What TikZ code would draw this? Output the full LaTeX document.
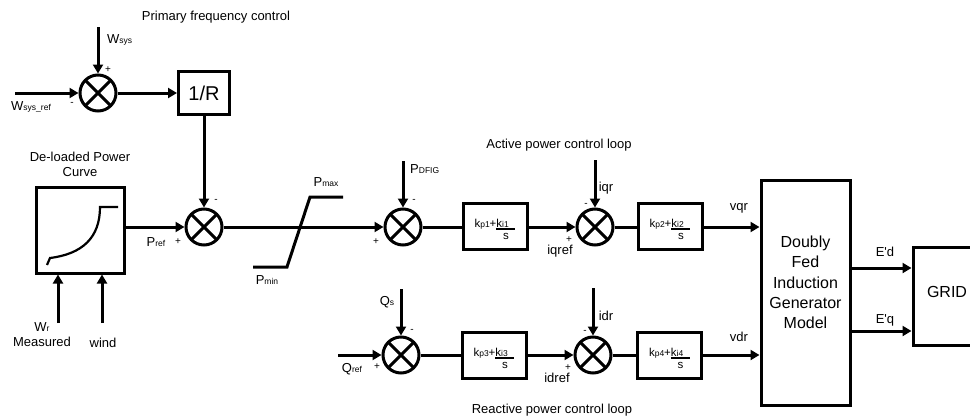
\documentclass[tikz,border=0pt]{standalone}
\usepackage{amsmath}
\usepackage{fontspec}
\setmainfont{Liberation Sans}
\usetikzlibrary{arrows.meta,positioning,calc}
\newcommand{\sbs}[1]{{\fontsize{8.5}{9}\selectfont #1}}
\newcommand{\pigain}[2]{k\sbs{#1}+\begin{tabular}[t]{@{}l@{}}k\sbs{#2}\\[-10pt]\rule{19pt}{2.4pt}\\[-4pt]\multicolumn{1}{@{}c@{}}{s}\end{tabular}}
\tikzset{
  blk/.style    ={rectangle, draw=black, line width=3pt, inner sep=0pt,
                  minimum width=64pt, minimum height=46pt},
  pibox/.style  ={blk, font=\fontsize{11.5}{13}\selectfont,
                  text height=12pt, text depth=10pt},
  sumnode/.style={circle, draw=black, line width=3pt, minimum size=36pt,
                  inner sep=0pt,
                  path picture={\draw[line width=3pt]
                    (path picture bounding box.north west) -- (path picture bounding box.south east)
                    (path picture bounding box.north east) -- (path picture bounding box.south west);}},
  sig/.style    ={-{Triangle[length=9pt,width=10pt]}, line width=3pt},
  wire/.style   ={line width=3pt},
  lbl/.style    ={font=\fontsize{13}{15}\selectfont, inner sep=0pt},
  sgn/.style    ={font=\fontsize{10}{10}\selectfont, inner sep=0pt}
}
\begin{document}
\begin{tikzpicture}[x=1pt, y=-1pt]
  \useasboundingbox (0,0) rectangle (970,418);
  \clip (0,0) rectangle (970,418);
  % primary frequency control
  \node[lbl] (pfc) at (216,17) {Primary frequency control};
  \node[sumnode] (s1) at (98,93) {};
  \node[blk, minimum width=51pt, minimum height=43pt,
        font=\fontsize{20}{22}\selectfont] (rinv) at (204,93) {1/R};
  \coordinate (wsys) at (98,27);
  \coordinate (wref) at (15,93);
  \draw[sig] (wsys) -- (s1.north);
  \draw[sig] (wref) -- (s1.west);
  \draw[sig] (s1.east) -- (rinv.west);
  \node[lbl, anchor=west] at (107,40) {W\sbs{sys}};
  \node[lbl, anchor=west] at (11,107) {W\sbs{sys\_ref}};
  \node[sgn] at (108,70) {+};
  \node[sgn] at (72,104) {-};
  % de-loaded curve
  \node[blk, minimum width=88pt, minimum height=86pt] (curve) at (80,230) {};
  \node[lbl, align=center] (dlpc) at (80,164) {De-loaded Power\\Curve};
  \draw[line width=2.2pt] (47,265) -- (50,258) .. controls (82,254) and (100,238) .. (100,207) -- (118,207);
  \coordinate (wr) at (58,323);
  \coordinate (wind) at (102,323);
  \draw[sig] (wr) -- (wr |- curve.south);
  \draw[sig] (wind) -- (wind |- curve.south);
  \node[lbl, align=center] at (42,335) {W\sbs{r}\\Measured};
  \node[lbl] at (103,343) {wind};
  \node[sumnode] (s2) at (204,227) {};
  \draw[sig] (curve.east |- s2) -- (s2.west);
  \draw[sig] (rinv.south) -- (s2.north);
  \node[lbl] at (156,242) {P\sbs{ref}};
  \node[sgn] at (178,242) {+};
  \node[sgn] at (216,201) {-};
  % limiter
  \draw[wire] (253,267) -- (287,267) -- (310,197) -- (343,197);
  \node[lbl] at (326,182) {P\sbs{max}};
  \node[lbl] at (267,280) {P\sbs{min}};
  % active power loop
  \node[lbl] (apl) at (559,145) {Active power control loop};
  \node[sumnode] (s3) at (403,227) {};
  \draw[sig] (s2.east) -- (s3.west);
  \coordinate (pdfig) at (403,161);
  \draw[sig] (pdfig) -- (s3.north);
  \node[lbl, anchor=west] at (410,169) {P\sbs{DFIG}};
  \node[sgn] at (376,242) {+};
  \node[sgn] at (414,201) {-};
  \node[pibox] (pi1) at (495,226) {\pigain{p1}{i1}};
  \draw[wire] (s3.east) -- (s3.east -| pi1.west);
  \node[sumnode] (s4) at (595,227) {};
  \draw[sig] (pi1.east |- s4) -- (s4.west);
  \coordinate (iqr) at (595,160);
  \draw[sig] (iqr) -- (s4.north);
  \node[lbl] at (606,188) {iqr};
  \node[lbl] at (560,251) {iqref};
  \node[sgn] at (569,240) {+};
  \node[sgn] at (586,205) {-};
  \node[pibox] (pi2) at (670,226) {\pigain{p2}{i2}};
  \draw[wire] (s4.east) -- (s4.east -| pi2.west);
  % machine and grid
  \node[blk, minimum width=89pt, minimum height=225pt,
        label={[lbl, font=\fontsize{16}{20.3}\selectfont, align=center, yshift=10pt]center:Doubly\\Fed\\Induction\\Generator\\Model}] (dfig) at (805.5,292.5) {};
  \coordinate (vq) at (pi2.east |- s4);
  \draw[sig] (vq) -- (vq -| dfig.west);
  \node[lbl] at (739,208) {vqr};
  \node[blk, minimum width=68pt, minimum height=98pt,
        font=\fontsize{16}{18}\selectfont, text height=11.5pt, text depth=8pt] (grid) at (947,296) {GRID};
  \coordinate (ed) at ($(dfig.east)+(0,-24.5)$);
  \coordinate (eq) at ($(dfig.east)+(0,38.5)$);
  \draw[sig] (ed) -- (ed -| grid.west);
  \draw[sig] (eq) -- (eq -| grid.west);
  \node[lbl] at (885,252) {E\textquotesingle d};
  \node[lbl] at (885,320) {E\textquotesingle q};
  % reactive power loop
  \node[sumnode] (s5) at (401,355) {};
  \coordinate (qref) at (338,355);
  \coordinate (qs) at (401,289);
  \draw[sig] (qref) -- (s5.west);
  \draw[sig] (qs) -- (s5.north);
  \node[lbl] at (352,369) {Q\sbs{ref}};
  \node[lbl] at (387,302) {Q\sbs{s}};
  \node[sgn] at (377,367) {+};
  \node[sgn] at (412,331) {-};
  \node[pibox] (pi3) at (494,355) {\pigain{p3}{i3}};
  \draw[wire] (s5.east) -- (pi3.west);
  \node[sumnode] (s6) at (593,355) {};
  \draw[sig] (pi3.east) -- (s6.west);
  \coordinate (idr) at (593,288);
  \draw[sig] (idr) -- (s6.north);
  \node[lbl] at (606,316) {idr};
  \node[lbl] at (557,378) {idref};
  \node[sgn] at (568,368) {+};
  \node[sgn] at (585,332) {-};
  \node[pibox] (pi4) at (669.5,355) {\pigain{p4}{i4}};
  \draw[wire] (s6.east) -- (pi4.west);
  \draw[sig] (pi4.east) -- (pi4.east -| dfig.west);
  \node[lbl] at (739,337) {vdr};
  \node[lbl] (rpl) at (552,410) {Reactive power control loop};
\end{tikzpicture}
\end{document}
